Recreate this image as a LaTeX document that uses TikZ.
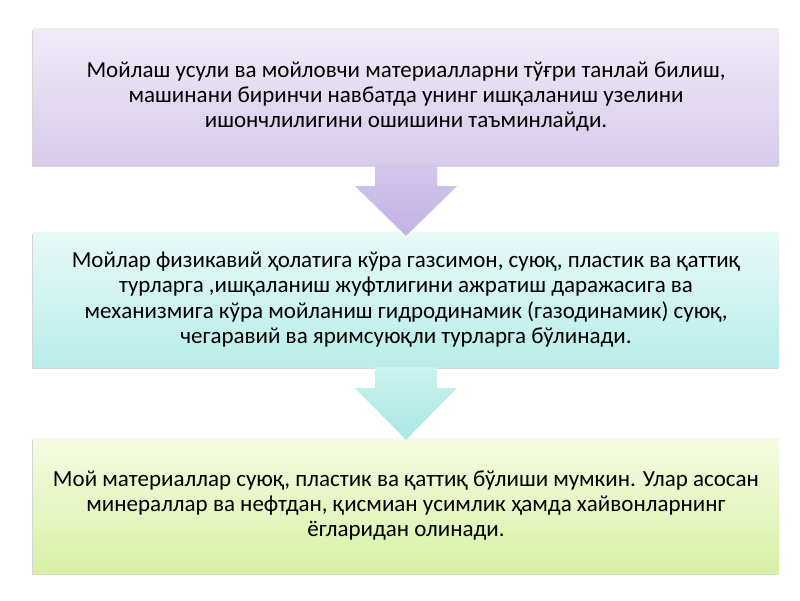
\documentclass[tikz,border=0pt]{standalone}
\usepackage{fontspec}
\setmainfont{Carlito}
\usetikzlibrary{calc,shadows}
\definecolor{boxAtop}{HTML}{F0EBF7}
\definecolor{boxAbot}{HTML}{D7CAEB}
\definecolor{boxBtop}{HTML}{E6F9F7}
\definecolor{boxBbot}{HTML}{B9EDE9}
\definecolor{boxCtop}{HTML}{F5FBE2}
\definecolor{boxCbot}{HTML}{D8F0A6}
\definecolor{arrAtop}{HTML}{D3C6EC}
\definecolor{arrAbot}{HTML}{C3B1E4}
\definecolor{arrBtop}{HTML}{CBF2EE}
\definecolor{arrBbot}{HTML}{AAE8E2}
\begin{document}
\begin{tikzpicture}[x=1pt,y=-1pt,
  box/.style={draw=none, minimum width=746pt, inner sep=0pt,
    align=center, text=black, font=\fontsize{23}{25.3}\selectfont,
    drop shadow={shadow xshift=-1.5pt, shadow yshift=-2pt, fill=black!40, opacity=0.4}},
  downarrow/.style={draw=none}]
\useasboundingbox (0,0) rectangle (800,600);
\fill[white] (0,0) rectangle (800,600);
\node[box, minimum height=137pt, top color=boxAtop, bottom color=boxAbot] (b1) at (406,96.5)
 {Мойлаш усули ва мойловчи материалларни тўғри танлай билиш,\\
  машинани биринчи навбатда унинг ишқаланиш узелини\\
  ишончлилигини ошишини таъминлайди.};
\node[box, minimum height=135pt, top color=boxBtop, bottom color=boxBbot] (b2) at (406,299.5)
 {Мойлар физикавий ҳолатига кўра газсимон, суюқ, пластик ва қаттиқ\\
  турларга ,ишқаланиш жуфтлигини ажратиш даражасига ва\\
  механизмига кўра мойланиш гидродинамик (газодинамик) суюқ,\\
  чегаравий ва яримсуюқли турларга бўлинади.};
\node[box, minimum height=135pt, top color=boxCtop, bottom color=boxCbot] (b3) at (406,505.5)
 {Мой материаллар суюқ, пластик ва қаттиқ бўлиши мумкин. Улар асосан\\
  минераллар ва нефтдан, қисмиан усимлик ҳамда хайвонларнинг\\
  ёгларидан олинади.};
\shade[downarrow, top color=arrAtop, bottom color=arrAbot]
  ($(b1.south)+(-31,0)$) -- ($(b1.south)+(-31,21)$) -- ($(b1.south)+(-51,21)$)
  -- ($(b2.north)+(0,4)$) -- ($(b1.south)+(51,21)$) -- ($(b1.south)+(31,21)$)
  -- ($(b1.south)+(31,0)$) -- cycle;
\shade[downarrow, top color=arrBtop, bottom color=arrBbot]
  ($(b2.south)+(-31,0)$) -- ($(b2.south)+(-31,21)$) -- ($(b2.south)+(-51,21)$)
  -- ($(b3.north)+(0,2)$) -- ($(b2.south)+(51,21)$) -- ($(b2.south)+(31,21)$)
  -- ($(b2.south)+(31,0)$) -- cycle;
\end{tikzpicture}
\end{document}
